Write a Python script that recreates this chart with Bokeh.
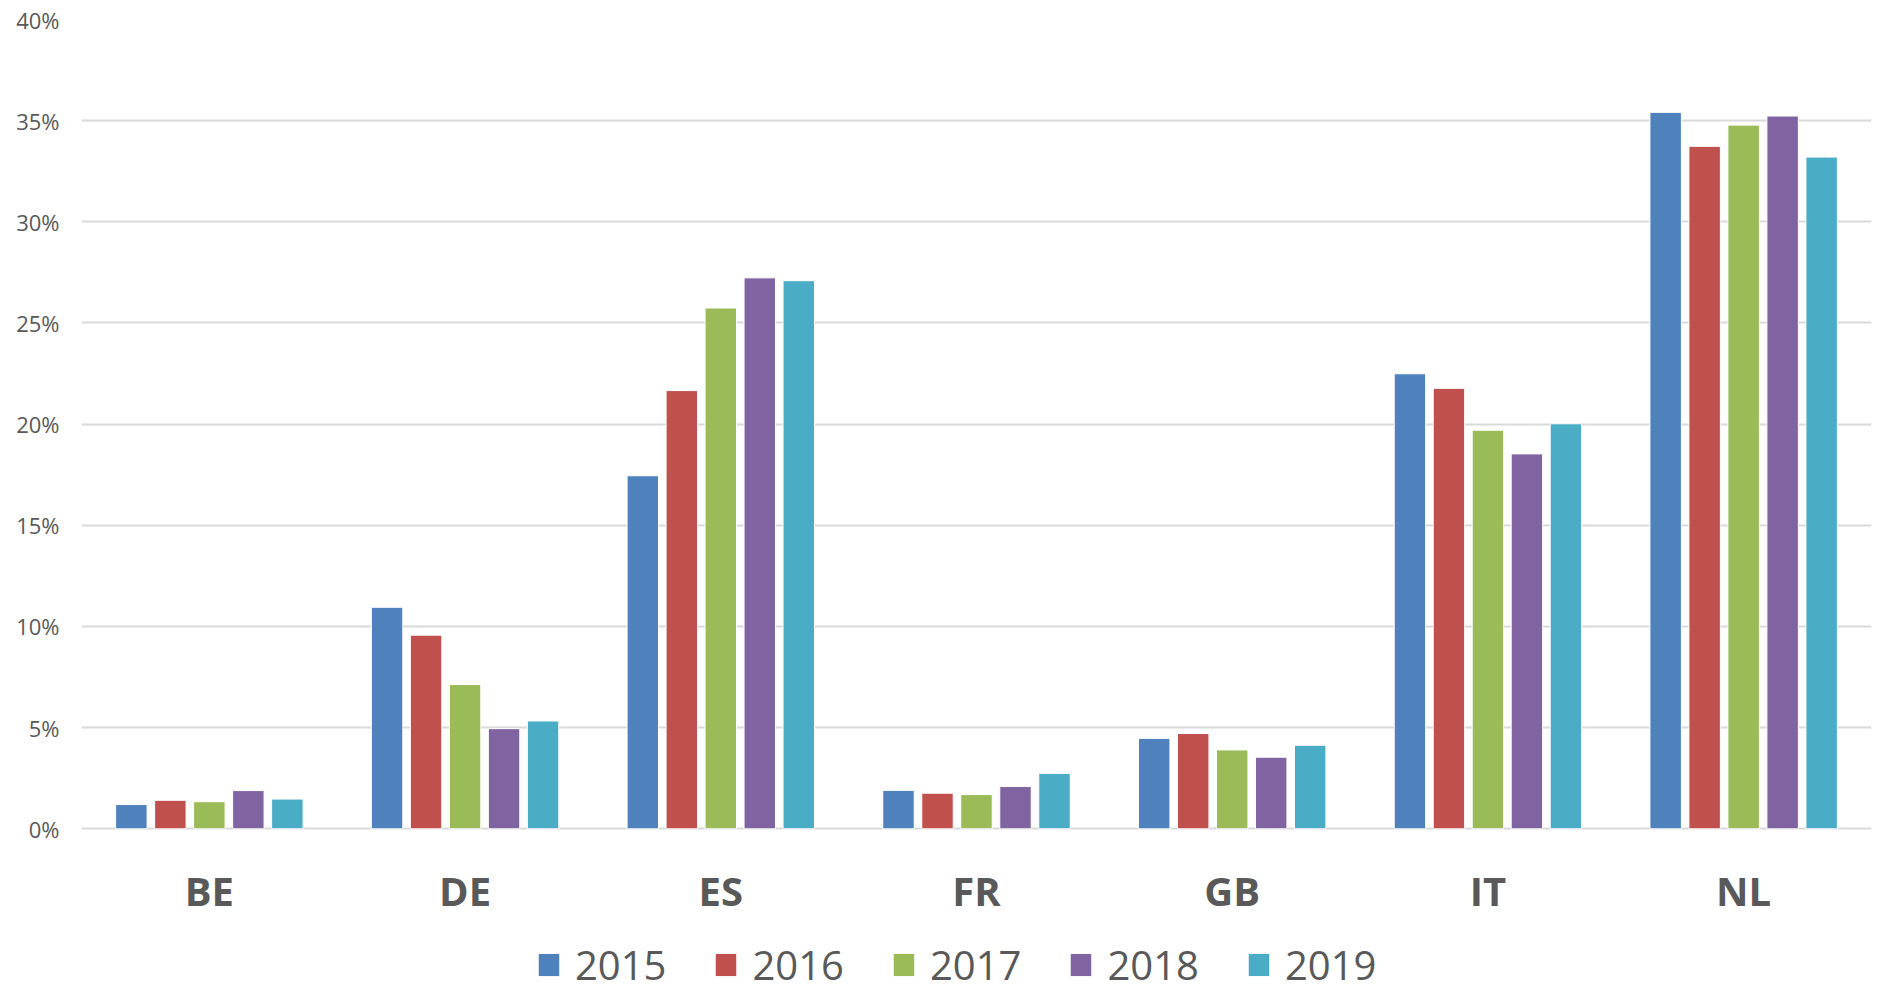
from bokeh.plotting import figure
from bokeh.models import (ColumnDataSource, FactorRange, Range1d, FixedTicker,
                          NumeralTickFormatter, Legend, LegendItem)
from bokeh.core.properties import value
from bokeh.transform import dodge
from bokeh.embed import file_html
from bokeh.resources import INLINE

# ---- data (percent) ----
countries = ["BE", "DE", "ES", "FR", "GB", "IT", "NL"]
years = ["2015", "2016", "2017", "2018", "2019"]
v2015 = [1.20, 10.95, 17.45, 1.90, 4.47, 22.49, 35.41]
v2016 = [1.41, 9.57, 21.66, 1.76, 4.71, 21.77, 33.73]
v2017 = [1.34, 7.13, 25.74, 1.69, 3.90, 19.70, 34.78]
v2018 = [1.89, 4.95, 27.23, 2.09, 3.54, 18.53, 35.23]
v2019 = [1.47, 5.33, 27.09, 2.74, 4.13, 20.02, 33.20]
y_ticks = [0, 5, 10, 15, 20, 25, 30, 35, 40]

series = [v2015, v2016, v2017, v2018, v2019]
colors = ["#4F81BD", "#C0504D", "#9BBB59", "#8064A2", "#4BACC6"]
TEXT = "#595959"
FONT = "Open Sans"

data = {"cat": countries}
for y, vals in zip(years, series):
    data["y" + y] = [v / 100.0 for v in vals]
source = ColumnDataSource(data)

# frame extends below zero to hold category labels and legend
p = figure(x_range=FactorRange(factors=countries),
           y_range=Range1d(-0.0809, y_ticks[-1] / 100.0),
           width=1878, height=992,
           min_border_left=81, min_border_right=7, min_border_top=19,
           min_border_bottom=0,
           output_backend="svg", toolbar_location=None)

pitch = 0.1525
renderers = []
for i, (y, c) in enumerate(zip(years, colors)):
    r = p.vbar(x=dodge("cat", (i - 2) * pitch, range=p.x_range),
               top="y" + y, bottom=0, width=0.123, source=source,
               fill_color=c, line_color="white", line_width=1)
    renderers.append(r)

# category labels (x axis)
p.text(x="cat", y=-0.0307, text="cat", source=source,
       text_font=value(FONT), text_font_size="40px", text_font_style="bold",
       text_color=TEXT, text_align="center", text_baseline="alphabetic")
p.xaxis.visible = False

# y axis
p.yaxis.ticker = FixedTicker(ticks=[t / 100.0 for t in y_ticks])
p.yaxis.formatter = NumeralTickFormatter(format="0%")
p.yaxis.axis_line_color = None
p.yaxis.major_tick_line_color = None
p.yaxis.minor_tick_line_color = None
p.yaxis.major_tick_out = 0
p.yaxis.major_label_standoff = 22
p.yaxis.major_label_text_font = FONT
p.yaxis.major_label_text_font_size = "22px"
p.yaxis.major_label_text_color = TEXT

p.xgrid.grid_line_color = None
p.ygrid.grid_line_color = "#D9D9D9"
p.ygrid.grid_line_width = 2
p.outline_line_color = None

legend = Legend(items=[LegendItem(label=y, renderers=[r]) for y, r in zip(years, renderers)],
                orientation="horizontal", location=(454, 0),
                glyph_width=27, glyph_height=29, label_standoff=13, spacing=46,
                label_text_font=FONT, label_text_font_size="40px",
                label_text_color=TEXT, border_line_color=None,
                background_fill_alpha=0, padding=0, margin=0)
p.add_layout(legend, "center")

open("out.html", "w").write(file_html(p, INLINE))
